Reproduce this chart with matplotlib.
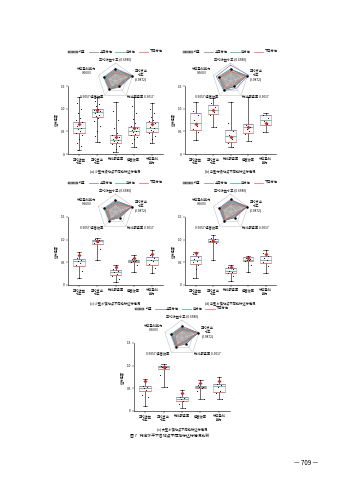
import numpy as np
import matplotlib.pyplot as plt
from matplotlib.patches import Patch
from matplotlib.lines import Line2D

plt.rcParams['font.family'] = ['Noto Sans CJK SC', 'DejaVu Sans']
plt.rcParams['axes.unicode_minus'] = False

W, H = 339, 480

categories   = ['平均收益\n水平', '平均支出\n水平', '物流服务率', '运营效率', '综合盈利\n能力']
radar_labels = ['平均收益水平 (0.6580)', '平均支出\n水平\n(0.9872)', '物流服务率 0.3017',
                '0.5057 运营效率', '综合盈利能力\n0.6603']
legend_labels = ['均值', '上四分位', '中分位', '下四分位']

# (a)
a_lo   = [0.09, 0.27, 0.05, 0.16, 0.25]
a_q1   = [0.46, 0.82, 0.25, 0.42, 0.49]
a_med  = [0.57, 0.92, 0.30, 0.50, 0.58]
a_q3   = [0.71, 1.00, 0.42, 0.60, 0.71]
a_hi   = [1.25, 1.25, 1.14, 1.25, 1.13]
a_mean = [0.66, 0.97, 0.38, 0.58, 0.66]
a_pts  = [[1.25, 1.12, 1.0, 0.9, 0.8, 0.74, 0.7, 0.66, 0.62, 0.58, 0.55, 0.5, 0.47, 0.42, 0.33, 0.25, 0.17, 0.09],
          [1.25, 1.18, 1.1, 1.05, 1.0, 0.97, 0.95, 0.92, 0.9, 0.87, 0.84, 0.8, 0.72, 0.62, 0.5, 0.4, 0.27],
          [1.14, 0.95, 0.75, 0.58, 0.47, 0.42, 0.38, 0.35, 0.32, 0.3, 0.28, 0.26, 0.23, 0.18, 0.12, 0.05],
          [1.25, 1.05, 0.9, 0.78, 0.68, 0.62, 0.58, 0.55, 0.52, 0.5, 0.48, 0.45, 0.42, 0.38, 0.32, 0.25, 0.16],
          [1.13, 1.0, 0.9, 0.82, 0.76, 0.72, 0.68, 0.64, 0.6, 0.57, 0.54, 0.5, 0.46, 0.4, 0.33, 0.25]]

# (b)
b_lo   = [0.31, 0.59, 0.16, 0.29, 0.49]
b_q1   = [0.53, 0.88, 0.27, 0.47, 0.64]
b_med  = [0.68, 0.97, 0.40, 0.60, 0.75]
b_q3   = [0.90, 1.08, 0.53, 0.66, 0.85]
b_hi   = [1.15, 1.24, 1.14, 1.25, 0.91]
b_mean = [0.66, 0.96, 0.38, 0.60, 0.68]
b_pts  = [[1.15, 0.95, 0.85, 0.75, 0.62, 0.55, 0.48, 0.31],
          [1.24, 1.12, 1.04, 0.98, 0.93, 0.85, 0.59],
          [1.14, 0.68, 0.5, 0.42, 0.33, 0.25, 0.16],
          [1.25, 0.64, 0.6, 0.55, 0.5, 0.45, 0.29],
          [0.91, 0.87, 0.8, 0.72, 0.66, 0.49]]

# (c)
c_lo   = [0.15, 0.55, 0.07, 0.28, 0.26]
c_q1   = [0.42, 0.91, 0.22, 0.51, 0.45]
c_med  = [0.52, 0.97, 0.28, 0.53, 0.55]
c_q3   = [0.57, 1.00, 0.33, 0.56, 0.61]
c_hi   = [0.73, 1.04, 0.45, 0.66, 0.77]
c_mean = [0.66, 0.97, 0.40, 0.60, 0.69]
c_pts  = [[0.73, 0.6, 0.55, 0.52, 0.49, 0.44, 0.3, 0.15],
          [1.04, 1.01, 0.99, 0.97, 0.95, 0.92, 0.8, 0.55],
          [0.45, 0.36, 0.31, 0.28, 0.25, 0.2, 0.14, 0.07],
          [0.66, 0.58, 0.55, 0.53, 0.52, 0.5, 0.45, 0.28],
          [0.77, 0.66, 0.6, 0.56, 0.52, 0.46, 0.38, 0.26]]

# (d)
d_lo   = [0.15, 0.55, 0.09, 0.28, 0.26]
d_q1   = [0.46, 0.95, 0.26, 0.53, 0.48]
d_med  = [0.56, 0.98, 0.30, 0.56, 0.55]
d_q3   = [0.64, 1.02, 0.37, 0.61, 0.64]
d_hi   = [0.73, 1.10, 0.45, 0.64, 0.77]
d_mean = [0.71, 0.98, 0.40, 0.60, 0.69]
d_pts  = [[0.73, 0.68, 0.62, 0.58, 0.54, 0.5, 0.45, 0.35, 0.15],
          [1.1, 1.04, 1.01, 0.99, 0.97, 0.96, 0.93, 0.55],
          [0.45, 0.4, 0.35, 0.31, 0.29, 0.27, 0.2, 0.09],
          [0.64, 0.6, 0.58, 0.56, 0.55, 0.53, 0.45, 0.28],
          [0.77, 0.7, 0.64, 0.6, 0.56, 0.5, 0.42, 0.26]]

# (e)
e_lo   = [0.11, 0.52, 0.06, 0.26, 0.26]
e_q1   = [0.44, 0.92, 0.23, 0.50, 0.42]
e_med  = [0.50, 0.96, 0.27, 0.53, 0.55]
e_q3   = [0.55, 0.99, 0.30, 0.55, 0.59]
e_hi   = [0.70, 1.03, 0.46, 0.68, 0.74]
e_mean = [0.66, 0.97, 0.40, 0.62, 0.66]
e_pts  = [[0.7, 0.56, 0.52, 0.5, 0.47, 0.35, 0.3, 0.11],
          [1.03, 1.0, 0.98, 0.96, 0.94, 0.8, 0.52],
          [0.46, 0.31, 0.28, 0.26, 0.22, 0.16, 0.06],
          [0.68, 0.57, 0.54, 0.53, 0.51, 0.45, 0.26],
          [0.74, 0.6, 0.57, 0.53, 0.45, 0.4, 0.26]]

captions = ['(a) 小型村级站点不同指标达标情况', '(b) 中型村级站点不同指标达标情况',
            '(c) 小型乡镇站点不同指标达标情况', '(d) 中型乡镇站点不同指标达标情况',
            '(e) 大型乡镇站点不同指标达标情况']

PURPLE = '#8c6bb1'
GREEN  = '#3aa68a'
RED    = '#e0605a'
MEAN_C = '#c9302c'
FS     = 2.3


def px_rect(x0, y0, x1, y1):
    return [x0 / W, 1 - y1 / H, (x1 - x0) / W, (y1 - y0) / H]


def close(v):
    return list(v) + [v[0]]


def draw_panel(fig, box, lo, q1, med, q3, hi, mean, pts, caption):
    x0, y0, x1, y1 = box
    ax = fig.add_axes(px_rect(x0, y0, x1, y1))
    pos = np.arange(1, 6)
    stats = [dict(whislo=lo[i], q1=q1[i], med=med[i], q3=q3[i], whishi=hi[i], fliers=[])
             for i in range(5)]
    bw = 0.62
    ax.bxp(stats, positions=pos, widths=bw, showfliers=False, patch_artist=True,
           boxprops=dict(facecolor='#fbf8f9', edgecolor='#a0a0a0', lw=0.4),
           medianprops=dict(color=GREEN, lw=0.5),
           whiskerprops=dict(color='k', lw=0.4),
           capprops=dict(color='k', lw=0.4), capwidths=0.25)
    ax.hlines(q3, pos - bw / 2, pos + bw / 2, color=PURPLE, lw=0.45, zorder=3)
    ax.hlines(q1, pos - bw / 2, pos + bw / 2, color=RED, lw=0.45, zorder=3)
    jit = np.array([0, -0.12, 0.12, -0.06, 0.06, -0.17, 0.17])
    for i, p in enumerate(pts):
        offs = np.resize(jit, len(p))
        ax.scatter(pos[i] + offs, p, s=0.6, color='k', lw=0, zorder=4)
    ax.scatter(pos, mean, marker='D', s=4, color=MEAN_C, lw=0, zorder=5)
    ax.set_xlim(0.4, 5.6)
    ax.set_ylim(0, 1.5)
    ax.set_yticks([0, 0.5, 1.0, 1.5])
    ax.set_yticklabels(['0', '0.5', '1.0', '1.5'])
    ax.set_xticks(pos)
    ax.set_xticklabels(categories, fontsize=FS, linespacing=1.1)
    ax.tick_params(labelsize=FS, length=1.2, width=0.3, pad=1)
    ax.set_ylabel('达标程度', fontsize=FS, labelpad=1.5)
    for s in ['top', 'right']:
        ax.spines[s].set_visible(False)
    for s in ['left', 'bottom']:
        ax.spines[s].set_linewidth(0.4)

    handles = [Patch(facecolor='#9a9a9a', edgecolor='#555', lw=0.3, hatch='||||'),
               Line2D([], [], color=PURPLE, lw=0.5),
               Line2D([], [], color=GREEN, lw=0.5),
               Line2D([], [], color=RED, lw=0.5)]
    ax.legend(handles, legend_labels, loc='center', bbox_to_anchor=(0.5, 1.5), ncol=4,
              frameon=False, fontsize=FS, handlelength=3.0, handleheight=0.7,
              columnspacing=0.9, handletextpad=0.4, borderpad=0)

    # radar inset
    R = 18
    cx = (x0 + x1) / 2
    cy = y0 - 5
    rax = fig.add_axes(px_rect(cx - R, cy - R, cx + R, cy + R), projection='polar')
    rax.set_theta_offset(np.pi / 2)
    rax.set_theta_direction(-1)
    rmax = 1.02
    rax.set_ylim(0, rmax)
    rax.axis('off')
    th = np.linspace(0, 2 * np.pi, 5, endpoint=False)
    tc = close(th)
    for r in [rmax / 3, 2 * rmax / 3, rmax]:
        rax.plot(tc, [r] * 6, color='#c4c4c4', lw=0.4, clip_on=False)
    for t in th:
        rax.plot([t, t], [0, rmax], color='#d4d4d4', lw=0.3, clip_on=False)
    rax.fill(tc, close(mean), color='#9a9a9a', alpha=0.85, lw=0.4, ec='#444', clip_on=False)
    rax.plot(tc, close(q3), color=PURPLE, lw=0.45, clip_on=False)
    rax.plot(tc, close(med), color=GREEN, lw=0.45, clip_on=False)
    rax.plot(tc, close(q1), color=RED, lw=0.45, clip_on=False)
    rax.scatter(th, mean, s=0.6, color='k', zorder=5, clip_on=False)
    rax.text(th[0], rmax * 1.12, radar_labels[0], ha='center', va='bottom', fontsize=FS)
    rax.text(th[1], rmax * 1.12, radar_labels[1], ha='left', va='center', fontsize=FS,
             linespacing=1.1, multialignment='center')
    rax.text(th[2], rmax * 1.1, radar_labels[2], ha='left', va='center', fontsize=FS)
    rax.text(th[3], rmax * 1.15, radar_labels[3], ha='right', va='bottom', fontsize=FS)
    rax.text(th[4], rmax * 1.1, radar_labels[4], ha='right', va='bottom', fontsize=FS,
             linespacing=1.1, multialignment='center')

    fig.text(((x0 + x1) / 2) / W, 1 - (y1 + 18) / H, caption, ha='center', va='center',
             fontsize=FS)


fig = plt.figure(figsize=(W / 100, H / 100), dpi=100)

draw_panel(fig, (68, 86, 163, 154), a_lo, a_q1, a_med, a_q3, a_hi, a_mean, a_pts, captions[0])
draw_panel(fig, (185, 86, 276, 154), b_lo, b_q1, b_med, b_q3, b_hi, b_mean, b_pts, captions[1])
draw_panel(fig, (68, 217, 163, 285), c_lo, c_q1, c_med, c_q3, c_hi, c_mean, c_pts, captions[2])
draw_panel(fig, (185, 217, 276, 285), d_lo, d_q1, d_med, d_q3, d_hi, d_mean, d_pts, captions[3])
draw_panel(fig, (134, 343, 230, 411), e_lo, e_q1, e_med, e_q3, e_hi, e_mean, e_pts, captions[4])

fig.text(170 / W, 1 - 436 / H, '图 7   特定水平下各站点不同指标达标情况比较', ha='center',
         va='center', fontsize=2.8)
fig.text(306 / W, 1 - 463 / H, '— 709 —', ha='center', va='center', fontsize=4.5)

fig.savefig('out.png', dpi=100)
